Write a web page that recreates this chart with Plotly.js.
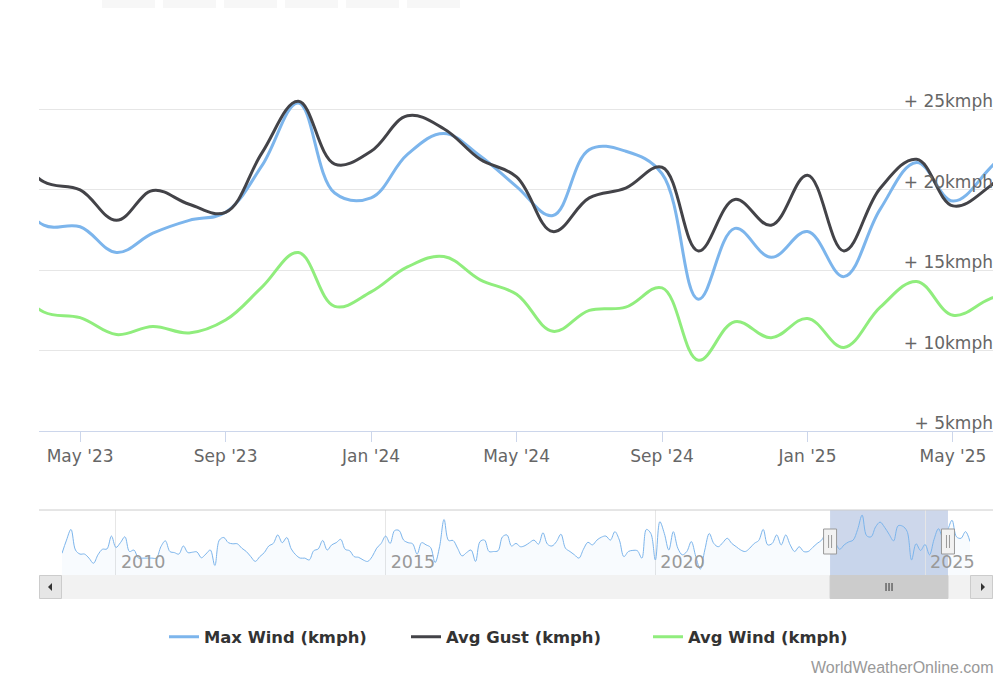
<!DOCTYPE html>
<html><head><meta charset="utf-8">
<script src="https://cdn.plot.ly/plotly-3.0.1.min.js"></script>
<style>html,body{margin:0;padding:0;background:#fff}#chart{width:1000px;height:692px}</style>
</head><body><div id="chart"></div>
<script>
// ---- data (monthly) ----
const mainMonths = [
 '2023-03','2023-04','2023-05','2023-06','2023-07','2023-08','2023-09','2023-10','2023-11','2023-12',
 '2024-01','2024-02','2024-03','2024-04','2024-05','2024-06','2024-07','2024-08','2024-09','2024-10','2024-11','2024-12',
 '2025-01','2025-02','2025-03','2025-04','2025-05','2025-06','2025-07'];
const maxWind = [20.5,17.8,17.7,16.1,17.3,18.1,18.6,21.5,25.4,19.8, 19.5,22.2,23.5,22.1,20.2,18.4,22.5,22.4,21.0,13.2,17.6,15.8, 17.4,14.6,18.8,21.7,19.3,21.3,24.0];
const avgGust = [23.0,20.5,20.0,18.1,19.95,19.1,18.6,22.3,25.5,21.6, 22.4,24.6,23.8,21.9,20.8,17.4,19.5,20.1,21.4,16.2,19.4,17.8, 20.9,16.2,20.1,21.9,19.0,20.2,22.5];
const avgWind = [14.5,12.4,12.05,11.0,11.5,11.1,11.9,13.95,16.1,12.75, 13.65,15.2,15.85,14.4,13.5,11.2,12.5,12.7,13.9,9.4,11.8,10.8, 12.0,10.2,12.7,14.3,12.2,13.2,14.0];
const seriesNames = ['Max Wind (kmph)','Avg Gust (kmph)','Avg Wind (kmph)'];
// navigator history of Max Wind, Jan 2009 - Feb 2023
const navStart = '2009-01';
const navHistory = [
 15.0,18.6,21.5,15.9,14.8,14.8,13.7,12.3,14.6,16.1,16.2,19.7,
 16.6,17.9,19.5,15.5,15.9,13.7,13.7,13.7,13.7,13.7,16.8,18.4,
 15.5,15.2,14.8,17.0,15.2,15.3,15.4,13.8,14.8,15.9,11.7,18.6,
 19.3,17.9,17.6,17.6,16.4,15.5,14.1,12.8,14.1,15.2,17.0,17.7,
 20.0,17.9,19.3,16.2,14.6,13.7,13.7,13.2,15.7,16.2,18.5,15.9,
 17.3,17.9,18.8,16.1,15.7,14.1,13.9,13.2,12.8,14.1,16.4,17.7,
 19.7,17.7,21.2,21.2,18.6,17.9,17.6,14.8,17.9,17.3,16.6,12.5,
 16.8,24.2,18.5,18.5,16.4,14.3,15.2,15.9,12.8,18.2,18.6,15.5,
 15.5,15.7,19.5,20.0,17.0,17.7,16.8,17.1,17.9,18.6,17.5,20.6,
 17.5,17.0,18.2,20.2,16.4,15.5,14.6,13.7,16.1,18.0,17.3,18.6,
 19.4,19.7,18.6,20.9,18.6,14.1,15.5,15.8,15.7,13.7,21.5,20.4,
 13.2,23.6,20.4,15.9,20.9,16.4,14.6,15.5,18.2,14.1,10.7,15.9,
 20.4,17.7,16.8,17.9,19.1,17.7,16.8,15.9,15.5,16.4,17.7,18.5,
 21.5,17.3,17.7,20.0,17.3,20.0,17.3,15.5,16.8,15.5,15.5,16.6,
 17.7,18.6];
const navTail = [19.5,19.1,20.9,18.2]; // Aug - Nov 2025
const xTickMonths = ['2023-05','2023-09','2024-01','2024-05','2024-09','2025-01','2025-05'];
const xTickText = ["May '23","Sep '23","Jan '24","May '24","Sep '24","Jan '25","May '25"];
const navTickMonths = ['2010-01','2015-01','2020-01','2025-01'];
const navTickText = ['2010','2015','2020','2025'];
const yTickVals = [5,10,15,20,25,30];
const yTickText = ['+ 5kmph','+ 10kmph','+ 15kmph','+ 20kmph','+ 25kmph',''];
const viewRangeMonths = [170.87, 197.1]; // visible window, in months since navStart (ordinal axis)

// ---- build ----
const mIdx = s => { const [y,m] = s.split('-').map(Number); const [y0,m0] = navStart.split('-').map(Number); return (y-y0)*12 + (m-m0); };
const mainX = mainMonths.map(mIdx);
const navValues = navHistory.concat(maxWind, navTail);
const navX = navValues.map((v,i)=>i);
const colors = ['#7cb5ec','#434348','#90ed7d'];
const W=1000,H=692;
const px=x=>x/W, py=y=>1-y/H;
const font='"DejaVu Sans", sans-serif';

const traces = [maxWind,avgGust,avgWind].map((vals,i)=>({
  x: mainX, y: vals, name: seriesNames[i], type:'scatter', mode:'lines',
  line:{color:colors[i], width:3, shape:'spline', smoothing:1.1}, hoverinfo:'skip', xaxis:'x', yaxis:'y'
}));
traces.push({x:navX, y:navValues, type:'scatter', mode:'lines', fill:'tozeroy', fillcolor:'rgba(124,181,236,0.05)',
  line:{color:'#7cb5ec', width:1, shape:'spline', smoothing:1}, xaxis:'x2', yaxis:'y2', showlegend:false, hoverinfo:'skip'});

const vr = viewRangeMonths;
const shapes = [];
// range selector buttons (cut off at top)
[102,163,224,285,346,407].forEach(x0=>shapes.push({type:'rect',xref:'paper',yref:'paper',x0:px(x0),x1:px(x0+53),y0:py(8),y1:py(-2),fillcolor:'#f7f7f7',line:{width:0},layer:'below'}));
// navigator outline top
shapes.push({type:'line',xref:'paper',yref:'paper',x0:px(39),x1:px(993),y0:py(510),y1:py(510),line:{color:'#cccccc',width:1}});
// navigator mask
shapes.push({type:'rect',xref:'x2',yref:'paper',x0:vr[0],x1:vr[1],y0:py(575),y1:py(510),fillcolor:'rgba(102,133,194,0.33)',line:{width:0},layer:'below'});
// scrollbar track
shapes.push({type:'rect',xref:'paper',yref:'paper',x0:px(39),x1:px(993),y0:py(599),y1:py(575),fillcolor:'#f2f2f2',line:{width:0}});
// scrollbar buttons
[[39,62],[970,993]].forEach(b=>shapes.push({type:'rect',xref:'paper',yref:'paper',x0:px(b[0]+0.5),x1:px(b[1]-0.5),y0:py(598.5),y1:py(575.5),fillcolor:'#e6e6e6',line:{color:'#cccccc',width:1}}));
shapes.push({type:'path',xref:'paper',yref:'paper',path:`M ${px(48)} ${py(587)} L ${px(52)} ${py(583)} L ${px(52)} ${py(591)} Z`,fillcolor:'#333333',line:{width:0}});
shapes.push({type:'path',xref:'paper',yref:'paper',path:`M ${px(985)} ${py(587)} L ${px(981)} ${py(583)} L ${px(981)} ${py(591)} Z`,fillcolor:'#333333',line:{width:0}});
// scrollbar thumb
shapes.push({type:'rect',xref:'x2',yref:'paper',x0:vr[0],x1:vr[1],y0:py(598.5),y1:py(575.5),fillcolor:'#cccccc',line:{color:'#cccccc',width:1}});
const mid = (vr[0]+vr[1])/2;
[-3,0,3].forEach(o=>shapes.push({type:'line',xref:'x2',yref:'paper',xsizemode:'pixel',xanchor:mid,x0:o,x1:o,y0:py(591),y1:py(583),line:{color:'#333333',width:1}}));
// navigator handles
vr.forEach(d=>{
  shapes.push({type:'rect',xref:'x2',yref:'paper',xsizemode:'pixel',xanchor:d,x0:-6.5,x1:6.5,y0:py(554),y1:py(529),fillcolor:'#f2f2f2',line:{color:'#999999',width:1}});
  [-1.5,1.5].forEach(o=>shapes.push({type:'line',xref:'x2',yref:'paper',xsizemode:'pixel',xanchor:d,x0:o,x1:o,y0:py(548),y1:py(535),line:{color:'#999999',width:1}}));
});

const layout = {
  width:W, height:H, margin:{l:0,r:0,t:0,b:0}, paper_bgcolor:'#fff', plot_bgcolor:'rgba(0,0,0,0)',
  font:{family:font, color:'#666666', size:17},
  showlegend:true,
  legend:{orientation:'h', x:px(164), xanchor:'left', y:py(637), yanchor:'middle', entrywidth:197,
    font:{family:font,size:16.4,color:'#333333',weight:'bold'}, itemwidth:30},
  xaxis:{domain:[px(39),px(993)], type:'linear', range:vr, tickmode:'array', tickvals:xTickMonths.map(mIdx), ticktext:xTickText,
    ticks:'outside', ticklen:10, tickcolor:'#ccd6eb', showline:true, linecolor:'#ccd6eb', linewidth:1, showgrid:false, zeroline:false,
    ticklabeloverflow:'allow', tickfont:{family:font,size:17,color:'#666666'}, anchor:'y', fixedrange:true},
  yaxis:{domain:[py(431),py(29)], range:[5,30], tickvals:yTickVals, ticktext:yTickText, side:'right', ticklabelposition:'inside top',
    ticklabelstandoff:-3, ticklabelshift:4, ticklabeloverflow:'allow',
    gridcolor:'#e6e6e6', showline:false, zeroline:false, ticks:'', tickfont:{family:font,size:17,color:'#666666'}, anchor:'x', fixedrange:true},
  xaxis2:{domain:[px(62),px(970)], type:'linear', range:[0, navValues.length-1], tickmode:'array', tickvals:navTickMonths.map(mIdx), ticktext:navTickText,
    ticklabelposition:'inside right', ticklabelshift:5, ticklabelstandoff:-2, ticklabeloverflow:'allow', ticks:'', showgrid:true, gridcolor:'#e6e6e6', showline:false, zeroline:false,
    tickfont:{family:font,size:17.5,color:'#999999'}, anchor:'y2', fixedrange:true},
  yaxis2:{domain:[py(575),py(510)], range:[9.1,26.8], visible:false, fixedrange:true, anchor:'x2'},
  shapes: shapes,
  annotations:[{text:'WorldWeatherOnline.com', xref:'paper', yref:'paper', x:px(996), y:py(667), xanchor:'right', yanchor:'middle', showarrow:false,
    font:{family:'"Liberation Sans", Arial, sans-serif', size:16, color:'#999999'}}]
};
Plotly.newPlot('chart', traces, layout, {displayModeBar:false, staticPlot:true});
</script></body></html>
